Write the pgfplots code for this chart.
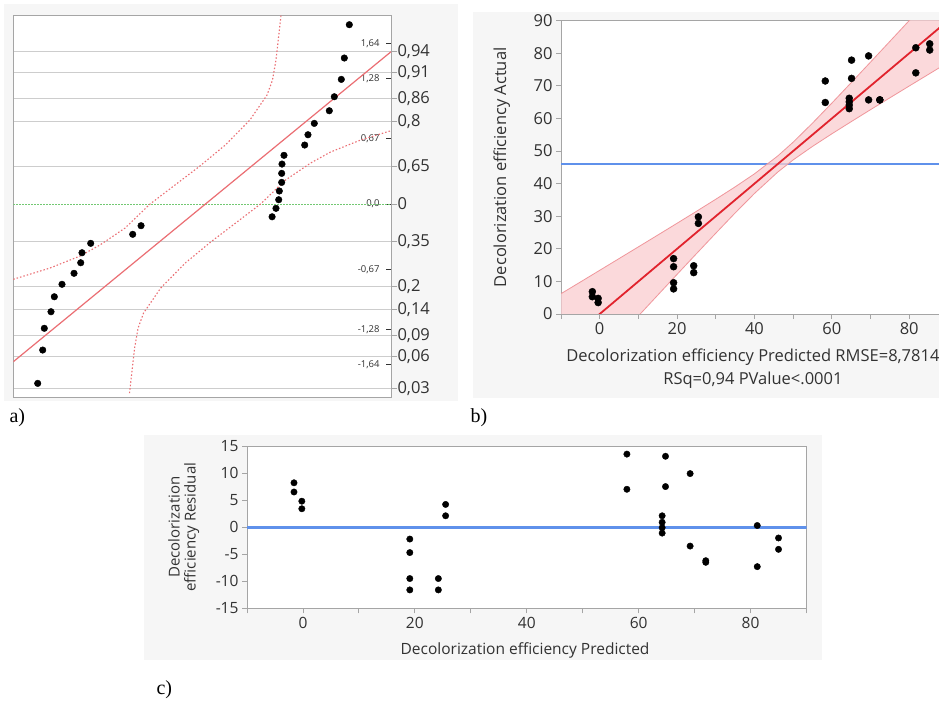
\documentclass[border=0pt]{standalone}
\usepackage{fontspec}
\setmainfont{Open Sans}
\newfontfamily\timesfont{Liberation Serif}
\usepackage{pgfplots}
\pgfplotsset{compat=1.18}
\definecolor{bggray}{RGB}{246,246,246}
\definecolor{framegray}{RGB}{165,165,165}
\definecolor{gridgray}{RGB}{205,205,205}
\definecolor{txt}{RGB}{50,50,50}
\definecolor{jmpblue}{RGB}{95,145,235}
\definecolor{fitred}{RGB}{225,35,45}
\definecolor{bandfill}{RGB}{250,205,208}
\definecolor{bandedge}{RGB}{240,150,155}
\definecolor{qred}{RGB}{235,110,115}
\definecolor{qgreen}{RGB}{115,200,115}
\begin{document}
\begin{tikzpicture}
\path[use as bounding box] (0,0) rectangle (939pt,702pt);
\fill[bggray] (4pt,301pt) rectangle (458pt,698pt);
\fill[bggray] (473pt,304pt) rectangle (939pt,690pt);
\fill[bggray] (144pt,42pt) rectangle (822pt,267pt);
\node[anchor=west,font=\timesfont\fontsize{20}{20}\selectfont] at (6pt,284pt) {a)};
\node[anchor=west,font=\timesfont\fontsize{20}{20}\selectfont] at (467pt,284pt) {b)};
\node[anchor=west,font=\timesfont\fontsize{20}{20}\selectfont] at (153pt,12pt) {c)};

% ---------- panel a: probability grid and right labels
\begin{axis}[at={(13.3pt,305pt)}, anchor=south west, scale only axis,
  width=377.7pt, height=382pt,
  xmin=-2.76, xmax=94.09, ymin=-1.969, ymax=1.929,
  axis background/.style={fill=white},
  axis line style={draw=none},
  xtick=\empty,
  ytick={-1.881,-1.555,-1.341,-1.080,-0.842,-0.385,0.385,0.842,1.080,1.341,1.555},
  yticklabels={{0,03},{0,06},{0,09},{0,14},{0,2},{0,35},{0,65},{0,8},{0,86},{0,91},{0,94}},
  extra y ticks={0}, extra y tick labels={{0,5}},
  extra y tick style={grid=none},
  ytick pos=right, yticklabel pos=right, tick align=outside,
  major tick length=6pt,
  tick style={framegray, line width=0.8pt},
  ymajorgrids, grid style={gridgray, line width=0.9pt},
  yticklabel style={font=\fontsize{16.5}{16.5}\selectfont, text=txt, xshift=-3pt},
]
\end{axis}
% ---------- panel a: data, frame, normal quantile labels
\begin{axis}[at={(13.3pt,305pt)}, anchor=south west, scale only axis,
  width=377.7pt, height=382pt,
  xmin=-2.76, xmax=94.09, ymin=-1.969, ymax=1.929,
  axis line style={framegray, line width=0.9pt},
  xtick=\empty,
  ytick={-1.64,-1.28,-0.67,0,0.67,1.28,1.64},
  yticklabels={{-1,64},{-1,28},{-0,67},{0,0},{0,67},{1,28},{1,64}},
  ytick pos=right, yticklabel pos=right, tick align=inside,
  major tick length=5pt,
  tick style={txt, line width=0.7pt},
  yticklabel style={anchor=east, xshift=-8pt, font=\fontsize{9.5}{10}\selectfont, text=txt},
]
\addplot[qgreen, line width=1pt, dash pattern=on 1.5pt off 1.5pt] coordinates {(-2.76,0) (94.09,0)};
\addplot[qred, line width=1.2pt] coordinates {(-2.76,-1.609) (94.09,1.554)};
\addplot[qred, line width=1.1pt, dash pattern=on 1.5pt off 2pt] coordinates {
(-2.76,-0.768) (6.65,-0.653) (14.35,-0.531) (19.47,-0.418) (25.9,-0.245) (32.3,0)
(38.7,0.194) (45.1,0.388) (51.6,0.602) (57.9,0.857) (62.3,1.112) (63.7,1.265)
(64.6,1.47) (65.9,1.93)};
\addplot[qred, line width=1.1pt, dash pattern=on 1.5pt off 2pt] coordinates {
(27.04,-1.93) (28.34,-1.47) (29.24,-1.265) (30.64,-1.112) (35.04,-0.857) (41.34,-0.602)
(47.84,-0.388) (54.24,-0.194) (60.64,0) (67.04,0.245) (73.47,0.418) (78.59,0.531)
(86.29,0.653) (95.7,0.768)};
\addplot[only marks, mark=*, mark size=3.3pt, black] coordinates {
(3.5,-1.830) (4.78,-1.490) (5.19,-1.268) (6.91,-1.099) (7.76,-0.946) (9.73,-0.819)
(12.81,-0.707) (14.53,-0.599) (14.86,-0.497) (17.09,-0.401) (27.86,-0.309) (30.0,-0.221)
(63.6,-0.130) (64.6,-0.044) (65.3,0.044) (65.45,0.133) (66.06,0.221) (66.06,0.313)
(66.14,0.408) (66.65,0.497) (71.96,0.602) (72.8,0.707) (74.42,0.823) (78.27,0.952)
(79.55,1.095) (81.35,1.272) (82.12,1.490) (83.4,1.830)};
\end{axis}

% ---------- panel b
\begin{axis}[at={(561pt,388pt)}, anchor=south west, scale only axis,
  width=386.9pt, height=293.3pt,
  xmin=-10, xmax=90, ymin=0, ymax=90,
  axis background/.style={fill=white},
  axis line style={framegray, line width=0.9pt},
  xtick={-10,0,...,90}, xticklabels={,0,,20,,40,,60,,80,},
  ytick={0,10,...,90},
  xtick pos=left, ytick pos=left, tick align=outside,
  major tick length=5pt,
  tick style={framegray, line width=0.9pt},
  /pgf/number format/assume math mode=true,
  ticklabel style={font=\fontsize{16.5}{16.5}\selectfont, text=txt},
  xlabel={Decolorization efficiency Predicted RMSE=8,7814\\RSq=0,94 PValue<.0001},
  xlabel style={at={(axis description cs:0.496,-0.186)}, anchor=center, align=center,
    font=\fontsize{16.5}{23}\selectfont, text=txt},
  ylabel={Decolorization efficiency Actual},
  ylabel style={at={(axis description cs:-0.153,0.5)}, anchor=center, rotate=0,
    font=\fontsize{16.5}{16.5}\selectfont, text=txt},
]
\addplot[jmpblue, line width=2.6pt] coordinates {(-10,46) (90,46)};
\addplot[fill=bandfill, draw=none, fill opacity=0.75] coordinates {
(-10,6.23) (-5,9.81) (0,13.40) (5,17.00) (10,20.60) (15,24.21) (20,27.84) (25,31.50)
(30,35.21) (35,39.00) (40,43.01) (46,48.47) (50,52.72) (55,58.57) (60,64.71) (65,70.98)
(70,77.30) (75,83.66) (80,90.04) (85,96.44) (90,102.84)
(90,77.16) (85,73.56) (80,69.96) (75,66.34) (70,62.70) (65,59.02) (60,55.29) (55,51.43)
(50,47.28) (46,43.53) (40,36.99) (35,31.00) (30,24.79) (25,18.50) (20,12.16) (15,5.79)
(10,-0.60) (5,-7.00) (0,-13.40) (-5,-19.81) (-10,-26.23)} -- cycle;
\addplot[bandedge, line width=0.8pt] coordinates {
(-10,6.23) (-5,9.81) (0,13.40) (5,17.00) (10,20.60) (15,24.21) (20,27.84) (25,31.50)
(30,35.21) (35,39.00) (40,43.01) (46,48.47) (50,52.72) (55,58.57) (60,64.71) (65,70.98)
(70,77.30) (75,83.66) (80,90.04) (85,96.44) (90,102.84)};
\addplot[bandedge, line width=0.8pt] coordinates {
(-10,-26.23) (-5,-19.81) (0,-13.40) (5,-7.00) (10,-0.60) (15,5.79) (20,12.16) (25,18.50)
(30,24.79) (35,31.00) (40,36.99) (46,43.53) (50,47.28) (55,51.43) (60,55.29) (65,59.02)
(70,62.70) (75,66.34) (80,69.96) (85,73.56) (90,77.16)};
\addplot[fitred, line width=1.8pt] coordinates {(-10,-10) (90,90)};
\addplot[only marks, mark=*, mark size=3.5pt, black] coordinates {
(-1.9,6.85) (-1.9,5.3) (-0.4,4.8) (-0.4,3.5)
(19.1,17.0) (19.1,14.5) (19.1,9.6) (19.1,7.7)
(24.3,14.8) (24.3,12.7) (25.5,29.8) (25.5,27.8)
(58.3,71.5) (58.3,64.9) (65.1,77.9) (65.1,72.3)
(64.5,66.2) (64.5,65.1) (64.5,64.1) (64.5,63.0)
(69.5,79.2) (69.5,65.7) (72.4,65.7) (72.4,65.7)
(81.7,81.7) (81.7,74.0) (85.3,82.9) (85.3,81.0)};
\end{axis}

% ---------- panel c
\begin{axis}[at={(247pt,93.7pt)}, anchor=south west, scale only axis,
  width=559.5pt, height=162.3pt,
  xmin=-10, xmax=90, ymin=-15, ymax=15,
  axis background/.style={fill=white},
  axis line style={framegray, line width=0.9pt},
  xtick={-10,0,...,90}, xticklabels={,0,,20,,40,,60,,80,},
  ytick={-15,-10,...,15},
  xtick pos=left, ytick pos=left, tick align=outside,
  major tick length=5pt,
  tick style={framegray, line width=0.9pt},
  /pgf/number format/assume math mode=true,
  ticklabel style={font=\fontsize{15.5}{15.5}\selectfont, text=txt},
  xlabel={Decolorization efficiency Predicted},
  xlabel style={at={(axis description cs:0.497,-0.257)}, anchor=center,
    font=\fontsize{15.5}{15.5}\selectfont, text=txt},
  ylabel={Decolorization\\efficiency Residual},
  ylabel style={at={(axis description cs:-0.113,0.5)}, anchor=center, align=center,
    font=\fontsize{15}{16}\selectfont, text=txt},
]
\addplot[jmpblue, line width=2.8pt] coordinates {(-10,0) (90,0)};
\addplot[only marks, mark=*, mark size=3.2pt, black] coordinates {
(-1.6,8.2) (-1.6,6.5) (-0.2,4.8) (-0.2,3.4)
(19.1,-2.2) (19.1,-4.7) (19.1,-9.5) (19.1,-11.6)
(24.2,-9.5) (24.2,-11.6) (25.5,4.2) (25.5,2.1)
(57.9,13.5) (57.9,7.0) (64.8,13.1) (64.8,7.5)
(64.2,2.1) (64.2,0.9) (64.2,-0.1) (64.2,-1.1)
(69.2,9.9) (69.2,-3.5) (72.0,-6.2) (72.0,-6.5)
(81.2,0.3) (81.2,-7.3) (85.0,-2.0) (85.0,-4.1)};
\end{axis}
\end{tikzpicture}
\end{document}
